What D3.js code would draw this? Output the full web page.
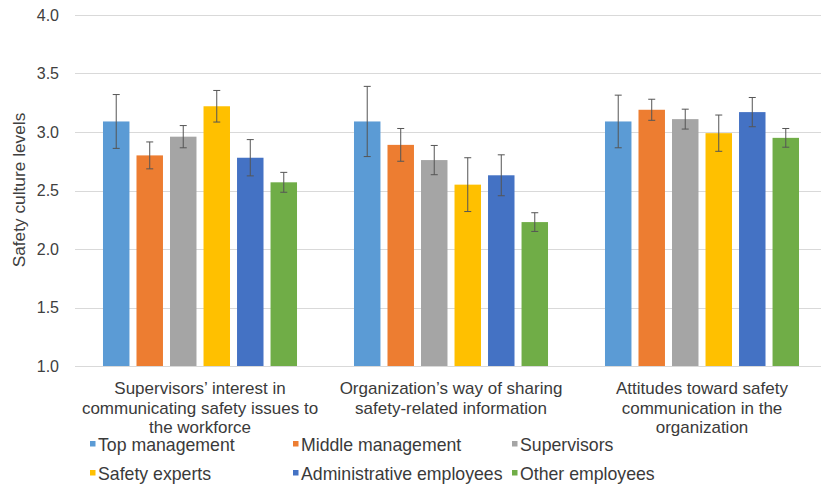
<!DOCTYPE html>
<html><head><meta charset="utf-8">
<script src="https://cdn.jsdelivr.net/npm/d3@7"></script>
<style>body{margin:0;background:#fff}svg{display:block;font-family:"Liberation Sans",Arial,sans-serif}</style>
</head><body>
<svg id="c" width="821" height="488"></svg>
<script>
const categories = [
  ["Supervisors’ interest in", "communicating safety issues to", "the workforce"],
  ["Organization’s way of sharing", "safety-related information"],
  ["Attitudes toward safety", "communication in the", "organization"]
];
const seriesNames = ["Top management","Middle management","Supervisors","Safety experts","Administrative employees","Other employees"];
const seriesColors = ["#5b9bd5","#ed7d31","#a5a5a5","#ffc000","#4472c4","#70ad47"];
const topManagement = [3.09, 3.09, 3.09];
const middleManagement = [2.80, 2.89, 3.19];
const supervisors = [2.96, 2.76, 3.11];
const safetyExperts = [3.22, 2.55, 2.99];
const administrative = [2.78, 2.63, 3.17];
const otherEmployees = [2.57, 2.23, 2.95];
const errTop = [0.23, 0.30, 0.225];
const errMiddle = [0.115, 0.14, 0.09];
const errSupervisors = [0.095, 0.125, 0.085];
const errSafety = [0.135, 0.23, 0.155];
const errAdmin = [0.155, 0.175, 0.125];
const errOther = [0.085, 0.08, 0.08];
const yTicks = [1.0, 1.5, 2.0, 2.5, 3.0, 3.5, 4.0];

const values = [topManagement, middleManagement, supervisors, safetyExperts, administrative, otherEmployees];
const errors = [errTop, errMiddle, errSupervisors, errSafety, errAdmin, errOther];

const svg = d3.select("#c");
const y = d3.scaleLinear().domain([1, 4]).range([366, 15]);
const x0 = d3.scaleBand().domain(d3.range(categories.length)).range([74.5, 827.5]).padding(0);
const x1 = d3.scaleBand().domain(d3.range(seriesNames.length)).range([0, x0.bandwidth()]).paddingInner(0.21).paddingOuter(0.85);

// gridlines
svg.append("g").selectAll("line").data(yTicks).join("line")
  .attr("x1", 75).attr("x2", 821)
  .attr("y1", d => Math.round(y(d)) + 0.5).attr("y2", d => Math.round(y(d)) + 0.5)
  .attr("stroke", "#d9d9d9").attr("stroke-width", 1);

// y tick labels
svg.append("g").selectAll("text").data(yTicks).join("text")
  .attr("x", 59).attr("y", d => y(d)).attr("dy", "0.36em")
  .attr("text-anchor", "end").attr("font-size", 16).attr("fill", "#404040")
  .text(d => d.toFixed(1));

// y title
svg.append("text").attr("transform", "translate(25,190) rotate(-90)")
  .attr("text-anchor", "middle").attr("font-size", 17.3).attr("fill", "#404040")
  .text("Safety culture levels");

// bars
const data = [];
values.forEach((arr, s) => arr.forEach((v, c) => data.push({s, c, v, e: errors[s][c]})));
svg.append("g").selectAll("rect").data(data).join("rect")
  .attr("x", d => x0(d.c) + x1(d.s)).attr("width", x1.bandwidth())
  .attr("y", d => y(d.v)).attr("height", d => y(1) - y(d.v))
  .attr("fill", d => seriesColors[d.s]);

// error bars
const eg = svg.append("g").attr("stroke", "#555").attr("stroke-width", 1).attr("fill", "none");
data.forEach(d => {
  const cx = x0(d.c) + x1(d.s) + x1.bandwidth() / 2;
  const y1 = y(d.v + d.e), y2 = y(d.v - d.e);
  eg.append("line").attr("x1", cx).attr("x2", cx).attr("y1", y1).attr("y2", y2);
  eg.append("line").attr("x1", cx - 3.5).attr("x2", cx + 3.5).attr("y1", y1).attr("y2", y1);
  eg.append("line").attr("x1", cx - 3.5).attr("x2", cx + 3.5).attr("y1", y2).attr("y2", y2);
});

// category labels
categories.forEach((lines, c) => {
  const t = svg.append("text").attr("text-anchor", "middle").attr("font-size", 17).attr("fill", "#3a3a3a");
  lines.forEach((ln, i) => t.append("tspan").attr("x", x0(c) + x0.bandwidth() / 2).attr("y", 394 + i * 19.5).text(ln));
});

// legend
const legCols = [90, 293, 512];
const legRows = [451, 480];
const lg = svg.append("g");
seriesNames.forEach((name, i) => {
  const cx = legCols[i % 3], by = legRows[Math.floor(i / 3)];
  lg.append("rect").attr("x", cx).attr("y", by - 10).attr("width", 5.5).attr("height", 5.5).attr("fill", seriesColors[i]);
  lg.append("text").attr("x", cx + 8).attr("y", by).attr("font-size", 17.7).attr("fill", "#3a3a3a").text(name);
});
</script>
</body></html>
